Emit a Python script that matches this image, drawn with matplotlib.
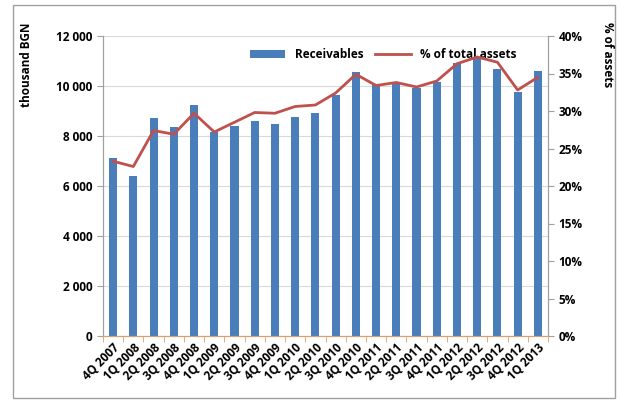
import numpy as np
import matplotlib
matplotlib.use('Agg')
import matplotlib.pyplot as plt
from matplotlib.patches import Rectangle
from matplotlib.ticker import FuncFormatter, FixedLocator

quarters = ['4Q 2007', '1Q 2008', '2Q 2008', '3Q 2008', '4Q 2008', '1Q 2009',
            '2Q 2009', '3Q 2009', '4Q 2009', '1Q 2010', '2Q 2010', '3Q 2010',
            '4Q 2010', '1Q 2011', '2Q 2011', '3Q 2011', '4Q 2011', '1Q 2012',
            '2Q 2012', '3Q 2012', '4Q 2012', '1Q 2013']
receivables = [7120, 6400, 8720, 8360, 9240, 8150, 8400, 8600, 8480, 8760, 8920,
               9640, 10560, 10040, 10120, 9920, 10160, 10920, 11160, 10680, 9760, 10600]
pct_assets = [23.3, 22.6, 27.4, 26.9, 29.7, 27.2, 28.5, 29.8, 29.7, 30.6, 30.8,
              32.4, 34.9, 33.4, 33.8, 33.2, 34.0, 36.3, 37.2, 36.5, 32.8, 34.5]

plt.rcParams['font.family'] = ['Open Sans', 'DejaVu Sans']

fig = plt.figure(figsize=(6.21, 4.07), dpi=100)
fig.patch.set_facecolor('white')
fig.patches.append(Rectangle((13/621, 1-398/407), 602/621, 393/407,
                             transform=fig.transFigure, fill=False,
                             edgecolor='#a0a0a0', linewidth=1.0))

ax = fig.add_axes([103/621, 1-336/407, 445/621, 300/407])
ax2 = ax.twinx()

x = np.arange(len(quarters))
bars = ax.bar(x, receivables, width=0.4, color='#4A7EBB', label='Receivables', zorder=2)
line, = ax2.plot(x, pct_assets, color='#C0504D', linewidth=2, label='% of total assets')

ax.set_xlim(-0.5, len(quarters) - 0.5)
ax.set_ylim(0, 12000)
ax.set_yticks(np.arange(0, 12001, 2000))
ax.yaxis.set_major_formatter(FuncFormatter(lambda v, p: '{:,.0f}'.format(v).replace(',', ' ')))
ax2.set_ylim(0, 40)
ax2.set_yticks(np.arange(0, 41, 5))
ax2.yaxis.set_major_formatter(FuncFormatter(lambda v, p: '{:.0f}%'.format(v)))

ax.grid(axis='y', color='#d9d9d9', linewidth=0.8, zorder=0)
ax.set_axisbelow(True)

ax.set_xticks(x)
ax.set_xticklabels(quarters, rotation=45, ha='right', rotation_mode='anchor',
                   fontsize=8.5, fontweight='bold')
ax.xaxis.set_minor_locator(FixedLocator(np.arange(-0.5, len(quarters), 1)))
ax.tick_params(axis='x', which='major', length=0, pad=4)
ax.tick_params(axis='x', which='minor', length=4, color='#d8a070')
ax.tick_params(axis='y', length=4, color='#a0a0a0', labelsize=8.5)
ax2.tick_params(axis='y', length=4, color='#a0a0a0', labelsize=8.5)
for lab in ax.get_yticklabels() + ax2.get_yticklabels():
    lab.set_fontweight('bold')

for a in (ax, ax2):
    a.spines['top'].set_visible(False)
    a.spines['left'].set_color('#a0a0a0')
    a.spines['right'].set_color('#a0a0a0')
    a.spines['bottom'].set_color('#d8a070')

fig.text(0.042, 0.84, 'thousand BGN', rotation=90, ha='center', va='center',
         fontsize=8.5, fontweight='bold')
fig.text(0.978, 0.865, '% of assets', rotation=270, ha='center', va='center',
         fontsize=8.5, fontweight='bold')

ax.legend([bars, line], ['Receivables', '% of total assets'], loc='upper center',
          bbox_to_anchor=(0.63, 0.995), ncol=2, frameon=False,
          prop={'weight': 'bold', 'size': 8.5}, handlelength=3, columnspacing=1.0)

fig.savefig('out.png', dpi=100)
